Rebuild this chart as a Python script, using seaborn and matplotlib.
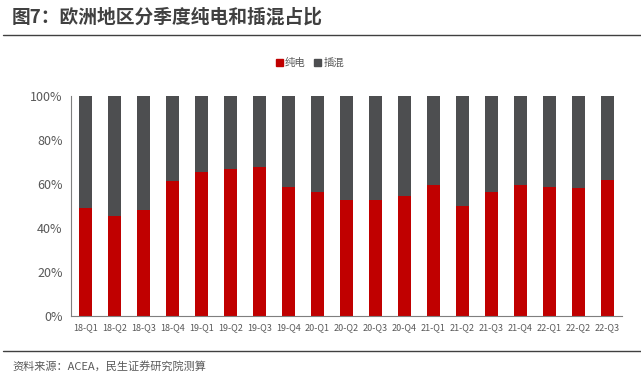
import matplotlib
matplotlib.use("Agg")

import numpy as np
import pandas as pd
import seaborn as sns
import matplotlib.pyplot as plt
import matplotlib.patches as mpatches
from matplotlib.ticker import PercentFormatter

# Data (share of BEV, %)
quarters = ['18-Q1', '18-Q2', '18-Q3', '18-Q4', '19-Q1', '19-Q2', '19-Q3', '19-Q4',
            '20-Q1', '20-Q2', '20-Q3', '20-Q4', '21-Q1', '21-Q2', '21-Q3', '21-Q4',
            '22-Q1', '22-Q2', '22-Q3']
bev_share = [49.1, 45.5, 48.2, 61.5, 65.5, 67.0, 67.9, 58.8,
             56.4, 52.7, 52.7, 54.5, 59.7, 50.0, 56.4, 59.7,
             58.8, 58.2, 61.8]
phev_share = [100 - v for v in bev_share]

RED = '#C00000'
GRAY = '#4D4E50'
TXT = '#595959'

sns.set_style("white")
plt.rcParams['font.family'] = ['Noto Sans CJK SC', 'DejaVu Sans']

df = pd.DataFrame({'quarter': quarters, 'bev': bev_share, 'phev': phev_share})
df['total'] = df['bev'] + df['phev']

fig = plt.figure(figsize=(6.41, 3.81), dpi=100)
ax = fig.add_axes([71 / 641, 1 - 316 / 381, (622 - 71) / 641, 220 / 381])

# stacked bars: draw the full 100% in gray, then BEV share on top in red
sns.barplot(data=df, x='quarter', y='total', color=GRAY, width=0.45,
            saturation=1, linewidth=0, ax=ax)
sns.barplot(data=df, x='quarter', y='bev', color=RED, width=0.45,
            saturation=1, linewidth=0, ax=ax)

ax.set_ylim(0, 100)
ax.set_xlim(-0.5, len(quarters) - 0.5)
ax.set_yticks(np.arange(0, 101, 20))
ax.yaxis.set_major_formatter(PercentFormatter(decimals=0))
ax.set_xlabel('')
ax.set_ylabel('')
ax.tick_params(axis='y', labelsize=9, colors=TXT, length=0, pad=6)
ax.tick_params(axis='x', labelsize=6.5, colors=TXT, length=0, pad=5)
for s in ['top', 'right']:
    ax.spines[s].set_visible(False)
for s in ['left', 'bottom']:
    ax.spines[s].set_color('#7f7f7f')
    ax.spines[s].set_linewidth(0.8)

handles = [mpatches.Patch(color=RED, label='纯电'),
           mpatches.Patch(color=GRAY, label='插混')]
fig.legend(handles=handles, loc='center', bbox_to_anchor=(310 / 641, 1 - 63 / 381),
           ncol=2, frameon=False, fontsize=7.5, handlelength=0.7, handleheight=0.7,
           handletextpad=0.2, columnspacing=0.8, labelcolor=TXT)

# title, rules, source
fig.text(12 / 641, 1 - 17 / 381, '图7：欧洲地区分季度纯电和插混占比', fontsize=13.5,
         fontweight='bold', color='#404040', va='center', ha='left')
fig.add_artist(plt.Line2D([3 / 641, 1], [1 - 35 / 381] * 2, color='#404040', lw=1))
fig.add_artist(plt.Line2D([3 / 641, 1], [1 - 351 / 381] * 2, color='#404040', lw=1))
fig.text(12 / 641, 1 - 366 / 381, '资料来源：ACEA，民生证券研究院测算', fontsize=8,
         color=TXT, va='center', ha='left')

plt.savefig('out.png', dpi=100)
plt.close()
